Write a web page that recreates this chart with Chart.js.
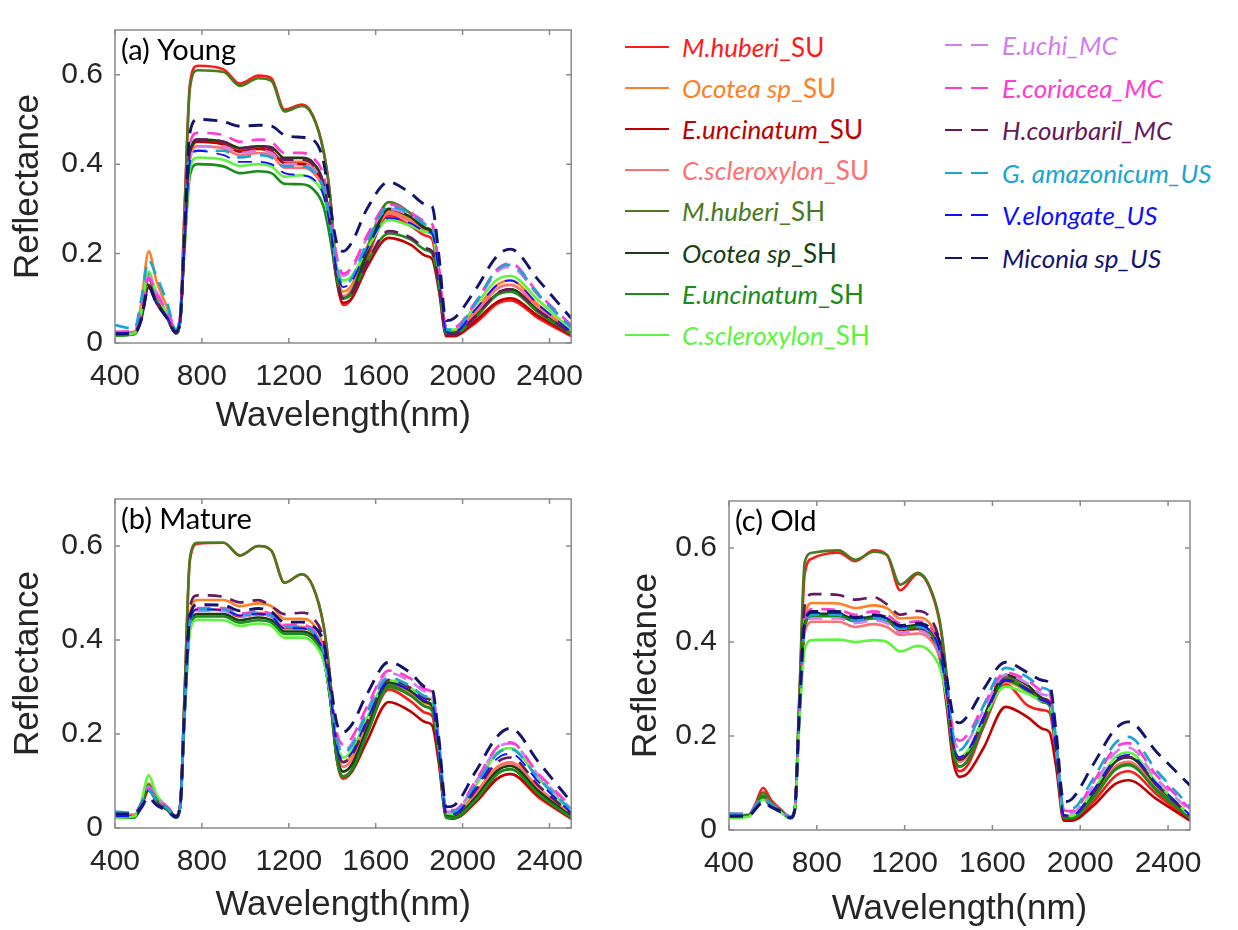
<!DOCTYPE html>
<html>
<head>
<meta charset="utf-8">
<script src="https://cdn.jsdelivr.net/npm/chart.js@4.4.1/dist/chart.umd.min.js"></script>
<style>
  body { margin: 0; background: #fff; width: 1238px; height: 930px; overflow: hidden; position: relative; }
  canvas { position: absolute; }
  .item { position: absolute; display: flex; align-items: center; height: 34px; font-family: Lato, "Open Sans", sans-serif; font-size: 26px; white-space: nowrap; }
  .item svg { margin-right: 13px; }
</style>
</head>
<body>
<canvas id="young" width="600" height="455" style="left:0;top:0"></canvas>
<canvas id="mature" width="600" height="470" style="left:0;top:460px"></canvas>
<canvas id="old" width="628" height="470" style="left:610px;top:460px"></canvas>
<div id="legend"></div>
<script>
// sample wavelengths (nm) shared by every curve
const wavelengths = [400, 490, 520, 555, 590, 640, 680, 700, 720, 745,
  780, 900, 975, 1060, 1120, 1180, 1260, 1310, 1360, 1390,
  1420, 1450, 1490, 1560, 1660, 1760, 1830, 1860, 1890, 1925,
  1960, 2060, 2160, 2220, 2350, 2500];

const speciesNames = ['M.huberi', 'Ocotea sp', 'E.uncinatum', 'C.scleroxylon', 'M.huberi', 'Ocotea sp', 'E.uncinatum', 'C.scleroxylon',
  'E.uchi', 'E.coriacea', 'H.courbaril', 'G. amazonicum', 'V.elongate', 'Miconia sp'];
const groupTags = ['_SU', '_SU', '_SU', '_SU', '_SH', '_SH', '_SH', '_SH', '_MC', '_MC', '_MC', '_US', '_US', '_US'];
const seriesColors = ['#ff1a1a', '#ff7f27', '#c00000', '#ff6f6f', '#4a7a1e', '#16400f', '#1a8c1a', '#5cf53c',
  '#d27cf2', '#ff3ccf', '#661a5e', '#1aa5d2', '#1010ff', '#14146e'];
const seriesDashed = [false, false, false, false, false, false, false, false, true, true, true, true, true, true];
const lineWidths = [2.6, 2.6, 2.6, 2.6, 2.6, 2.6, 2.6, 2.6, 2.7, 2.7, 2.7, 2.7, 1.8, 2.9];

// (a) Young
const aMhuberiSU = [0.020,0.022,0.060,0.150,0.105,0.060,0.025,0.055,0.300,0.580, 0.620,0.612,0.580,0.598,0.592,0.522,0.533,0.510,0.430,0.330, 0.150,0.085,0.100,0.190,0.285,0.262,0.240,0.232,0.140,0.020, 0.018,0.045,0.088,0.095,0.055,0.015];
const aOcoteaSU = [0.020,0.025,0.085,0.205,0.140,0.080,0.030,0.060,0.230,0.420, 0.450,0.445,0.430,0.436,0.430,0.405,0.405,0.395,0.350,0.265, 0.160,0.115,0.130,0.215,0.295,0.278,0.255,0.248,0.160,0.025, 0.025,0.075,0.130,0.140,0.085,0.025];
const aEuncinatumSU = [0.018,0.020,0.050,0.125,0.090,0.055,0.022,0.050,0.230,0.420, 0.450,0.444,0.428,0.434,0.428,0.402,0.400,0.390,0.345,0.255, 0.140,0.090,0.100,0.170,0.235,0.220,0.195,0.188,0.120,0.015, 0.015,0.050,0.092,0.100,0.060,0.018];
const aCscleroxylonSU = [0.022,0.025,0.065,0.150,0.110,0.065,0.025,0.055,0.225,0.410, 0.440,0.435,0.420,0.425,0.420,0.392,0.392,0.382,0.340,0.260, 0.155,0.105,0.120,0.205,0.290,0.272,0.250,0.243,0.155,0.025, 0.025,0.068,0.122,0.130,0.080,0.025];
const aMhuberiSH = [0.018,0.020,0.060,0.155,0.105,0.058,0.022,0.050,0.290,0.570, 0.610,0.606,0.575,0.592,0.586,0.518,0.530,0.508,0.428,0.330, 0.160,0.100,0.115,0.210,0.315,0.290,0.258,0.250,0.160,0.025, 0.022,0.060,0.110,0.120,0.070,0.020];
const aOcoteaSH = [0.018,0.022,0.060,0.145,0.100,0.058,0.022,0.050,0.230,0.425, 0.455,0.450,0.436,0.440,0.438,0.414,0.414,0.404,0.355,0.265, 0.150,0.100,0.112,0.200,0.300,0.282,0.256,0.248,0.158,0.022, 0.022,0.060,0.110,0.120,0.072,0.020];
const aEuncinatumSH = [0.016,0.020,0.060,0.150,0.100,0.058,0.022,0.050,0.210,0.375, 0.400,0.395,0.380,0.384,0.380,0.356,0.355,0.345,0.305,0.235, 0.145,0.100,0.110,0.180,0.245,0.232,0.208,0.200,0.130,0.020, 0.020,0.058,0.108,0.115,0.068,0.020];
const aCscleroxylonSH = [0.018,0.022,0.068,0.160,0.110,0.065,0.025,0.055,0.215,0.390, 0.415,0.410,0.396,0.400,0.395,0.372,0.375,0.365,0.330,0.260, 0.175,0.140,0.150,0.210,0.275,0.262,0.248,0.242,0.160,0.030, 0.030,0.085,0.142,0.150,0.095,0.030];
const aEuchiMC = [0.025,0.028,0.065,0.150,0.115,0.075,0.035,0.060,0.230,0.415, 0.440,0.440,0.425,0.430,0.425,0.400,0.400,0.390,0.355,0.285, 0.190,0.150,0.165,0.235,0.300,0.286,0.268,0.262,0.170,0.030, 0.030,0.088,0.160,0.170,0.105,0.035];
const aEcoriaceaMC = [0.025,0.028,0.065,0.145,0.110,0.070,0.030,0.060,0.240,0.445, 0.470,0.465,0.450,0.455,0.450,0.425,0.425,0.415,0.375,0.295, 0.195,0.155,0.170,0.240,0.310,0.292,0.272,0.266,0.175,0.035, 0.035,0.092,0.165,0.178,0.110,0.040];
const aHcourbarilMC = [0.020,0.022,0.055,0.130,0.095,0.055,0.022,0.050,0.230,0.430, 0.455,0.450,0.435,0.440,0.435,0.410,0.410,0.400,0.355,0.265, 0.150,0.100,0.112,0.180,0.250,0.236,0.212,0.205,0.135,0.020, 0.020,0.060,0.112,0.120,0.072,0.022];
const aGamazonicumUS = [0.040,0.032,0.095,0.185,0.150,0.090,0.030,0.060,0.230,0.410, 0.430,0.430,0.415,0.420,0.415,0.395,0.395,0.385,0.345,0.270, 0.170,0.130,0.145,0.225,0.305,0.290,0.265,0.258,0.168,0.030, 0.030,0.090,0.165,0.175,0.108,0.035];
const aVelongateUS = [0.022,0.025,0.050,0.120,0.090,0.058,0.025,0.055,0.225,0.405, 0.430,0.420,0.405,0.405,0.400,0.380,0.375,0.368,0.330,0.260, 0.165,0.125,0.138,0.210,0.280,0.268,0.250,0.244,0.160,0.025, 0.025,0.075,0.130,0.140,0.085,0.025];
const aMiconiaUS = [0.020,0.022,0.050,0.125,0.090,0.055,0.025,0.050,0.240,0.470, 0.500,0.495,0.485,0.487,0.485,0.465,0.460,0.455,0.405,0.310, 0.225,0.205,0.225,0.300,0.360,0.335,0.310,0.305,0.200,0.050, 0.055,0.120,0.195,0.210,0.140,0.055];

// (b) Mature
const bMhuberiSU = [0.025,0.025,0.045,0.085,0.060,0.040,0.025,0.045,0.280,0.570, 0.605,0.607,0.580,0.600,0.590,0.522,0.540,0.515,0.430,0.320, 0.150,0.105,0.120,0.200,0.295,0.270,0.245,0.238,0.150,0.025, 0.022,0.055,0.105,0.115,0.065,0.020];
const bOcoteaSU = [0.028,0.028,0.050,0.095,0.065,0.042,0.025,0.050,0.250,0.455, 0.485,0.485,0.472,0.478,0.472,0.445,0.445,0.435,0.380,0.290, 0.175,0.140,0.155,0.220,0.300,0.285,0.265,0.258,0.165,0.030, 0.028,0.075,0.130,0.140,0.085,0.028];
const bEuncinatumSU = [0.025,0.025,0.045,0.080,0.058,0.038,0.022,0.045,0.240,0.440, 0.465,0.463,0.450,0.455,0.450,0.425,0.425,0.415,0.365,0.275, 0.150,0.110,0.120,0.185,0.268,0.248,0.225,0.218,0.140,0.022, 0.020,0.055,0.105,0.115,0.068,0.020];
const bCscleroxylonSU = [0.028,0.028,0.050,0.090,0.063,0.042,0.025,0.048,0.245,0.440, 0.465,0.465,0.452,0.458,0.452,0.428,0.428,0.418,0.370,0.285, 0.170,0.130,0.145,0.215,0.305,0.288,0.268,0.262,0.168,0.030, 0.028,0.072,0.128,0.138,0.082,0.028];
const bMhuberiSH = [0.025,0.025,0.045,0.090,0.062,0.040,0.025,0.045,0.285,0.575, 0.607,0.607,0.580,0.600,0.590,0.522,0.540,0.515,0.432,0.320, 0.155,0.110,0.125,0.210,0.305,0.282,0.258,0.250,0.160,0.025, 0.022,0.060,0.115,0.125,0.072,0.022];
const bOcoteaSH = [0.025,0.025,0.048,0.088,0.062,0.040,0.024,0.046,0.240,0.430, 0.455,0.455,0.442,0.448,0.442,0.418,0.418,0.408,0.362,0.280, 0.160,0.120,0.135,0.210,0.310,0.292,0.268,0.260,0.165,0.025, 0.024,0.065,0.122,0.132,0.078,0.024];
const bEuncinatumSH = [0.022,0.022,0.045,0.092,0.062,0.040,0.022,0.045,0.238,0.425, 0.450,0.450,0.437,0.442,0.437,0.413,0.413,0.403,0.358,0.278, 0.150,0.108,0.122,0.200,0.300,0.282,0.258,0.250,0.160,0.022, 0.022,0.060,0.115,0.125,0.072,0.022];
const bCscleroxylonSH = [0.022,0.025,0.055,0.112,0.072,0.045,0.025,0.045,0.232,0.418, 0.443,0.442,0.430,0.435,0.430,0.405,0.405,0.395,0.355,0.285, 0.185,0.150,0.165,0.235,0.315,0.298,0.278,0.272,0.178,0.032, 0.030,0.090,0.160,0.170,0.105,0.035];
const bEuchiMC = [0.030,0.030,0.050,0.088,0.065,0.045,0.028,0.048,0.245,0.440, 0.462,0.462,0.450,0.455,0.450,0.428,0.428,0.418,0.375,0.295, 0.195,0.165,0.180,0.250,0.330,0.312,0.290,0.284,0.185,0.035, 0.035,0.098,0.170,0.180,0.112,0.040];
const bEcoriaceaMC = [0.032,0.032,0.052,0.085,0.065,0.045,0.028,0.048,0.248,0.445, 0.468,0.468,0.456,0.461,0.455,0.432,0.432,0.422,0.380,0.300, 0.205,0.178,0.192,0.258,0.335,0.318,0.295,0.288,0.188,0.038, 0.038,0.100,0.172,0.182,0.115,0.045];
const bHcourbarilMC = [0.030,0.030,0.050,0.080,0.060,0.042,0.025,0.048,0.260,0.470, 0.495,0.492,0.480,0.485,0.472,0.455,0.458,0.448,0.400,0.305, 0.180,0.140,0.155,0.225,0.315,0.298,0.275,0.268,0.172,0.030, 0.030,0.080,0.140,0.150,0.090,0.030];
const bGamazonicumUS = [0.035,0.032,0.050,0.080,0.060,0.042,0.025,0.046,0.245,0.440, 0.465,0.465,0.452,0.457,0.452,0.428,0.428,0.418,0.375,0.295, 0.190,0.160,0.175,0.245,0.320,0.302,0.280,0.274,0.178,0.035, 0.035,0.092,0.158,0.168,0.105,0.038];
const bVelongateUS = [0.025,0.025,0.040,0.062,0.048,0.035,0.022,0.042,0.240,0.440, 0.465,0.464,0.452,0.456,0.450,0.425,0.425,0.415,0.372,0.290, 0.175,0.145,0.160,0.230,0.310,0.292,0.270,0.264,0.170,0.030, 0.030,0.085,0.148,0.158,0.098,0.032];
const bMiconiaUS = [0.030,0.030,0.045,0.065,0.050,0.038,0.025,0.045,0.250,0.450, 0.475,0.474,0.462,0.467,0.460,0.438,0.438,0.430,0.395,0.315, 0.225,0.204,0.220,0.285,0.353,0.330,0.300,0.295,0.195,0.045, 0.048,0.120,0.195,0.212,0.140,0.055];

// (c) Old
const cMhuberiSU = [0.030,0.032,0.055,0.090,0.065,0.042,0.028,0.045,0.270,0.545, 0.578,0.590,0.572,0.595,0.585,0.510,0.545,0.520,0.440,0.330, 0.170,0.125,0.140,0.220,0.310,0.265,0.255,0.250,0.160,0.025, 0.022,0.060,0.115,0.125,0.075,0.022];
const cOcoteaSU = [0.032,0.032,0.050,0.072,0.055,0.040,0.028,0.045,0.250,0.455, 0.483,0.482,0.472,0.478,0.472,0.450,0.452,0.442,0.390,0.300, 0.185,0.150,0.165,0.235,0.315,0.295,0.275,0.268,0.170,0.030, 0.028,0.078,0.132,0.142,0.085,0.028];
const cEuncinatumSU = [0.030,0.030,0.048,0.070,0.055,0.038,0.026,0.044,0.245,0.435, 0.458,0.458,0.446,0.452,0.446,0.425,0.428,0.418,0.365,0.270, 0.150,0.113,0.122,0.175,0.262,0.240,0.215,0.208,0.135,0.020, 0.020,0.052,0.098,0.106,0.065,0.020];
const cCscleroxylonSU = [0.032,0.032,0.050,0.075,0.058,0.040,0.028,0.045,0.240,0.420, 0.443,0.443,0.432,0.438,0.432,0.415,0.418,0.408,0.365,0.285, 0.175,0.145,0.160,0.230,0.318,0.298,0.272,0.265,0.168,0.030, 0.028,0.075,0.135,0.145,0.088,0.028];
const cMhuberiSH = [0.030,0.032,0.052,0.080,0.060,0.040,0.028,0.045,0.280,0.570, 0.590,0.595,0.575,0.592,0.585,0.522,0.547,0.522,0.445,0.335, 0.175,0.135,0.150,0.230,0.325,0.300,0.275,0.268,0.170,0.028, 0.025,0.068,0.130,0.140,0.082,0.025];
const cOcoteaSH = [0.028,0.030,0.048,0.070,0.055,0.038,0.026,0.044,0.245,0.438, 0.460,0.460,0.448,0.454,0.450,0.432,0.436,0.426,0.378,0.292, 0.180,0.150,0.165,0.240,0.330,0.308,0.280,0.272,0.175,0.030, 0.028,0.078,0.145,0.155,0.095,0.030];
const cEuncinatumSH = [0.028,0.030,0.048,0.072,0.056,0.038,0.026,0.044,0.243,0.433, 0.455,0.455,0.444,0.450,0.445,0.428,0.432,0.422,0.372,0.285, 0.165,0.135,0.150,0.225,0.318,0.296,0.272,0.265,0.168,0.026, 0.025,0.070,0.128,0.138,0.085,0.026];
const cCscleroxylonSH = [0.025,0.028,0.045,0.065,0.052,0.036,0.024,0.042,0.220,0.385, 0.404,0.405,0.400,0.404,0.400,0.380,0.392,0.382,0.345,0.285, 0.190,0.155,0.170,0.235,0.305,0.290,0.275,0.270,0.175,0.032, 0.030,0.085,0.155,0.165,0.100,0.030];
const cEuchiMC = [0.032,0.032,0.050,0.068,0.055,0.040,0.028,0.045,0.240,0.428, 0.450,0.450,0.440,0.446,0.440,0.420,0.424,0.414,0.375,0.300, 0.200,0.175,0.190,0.255,0.330,0.312,0.288,0.282,0.182,0.038, 0.036,0.095,0.165,0.175,0.108,0.040];
const cEcoriaceaMC = [0.035,0.034,0.052,0.070,0.056,0.040,0.028,0.046,0.250,0.448, 0.470,0.468,0.458,0.465,0.458,0.440,0.444,0.434,0.390,0.310, 0.215,0.190,0.205,0.265,0.335,0.318,0.296,0.290,0.188,0.042, 0.040,0.102,0.175,0.185,0.115,0.045];
const cHcourbarilMC = [0.032,0.032,0.048,0.065,0.052,0.038,0.026,0.045,0.265,0.478, 0.502,0.500,0.490,0.495,0.480,0.458,0.466,0.455,0.400,0.305, 0.185,0.150,0.165,0.235,0.320,0.300,0.278,0.272,0.172,0.030, 0.030,0.080,0.145,0.155,0.095,0.030];
const cGamazonicumUS = [0.035,0.034,0.050,0.068,0.055,0.040,0.028,0.045,0.245,0.435, 0.458,0.458,0.446,0.452,0.446,0.428,0.432,0.422,0.380,0.305, 0.205,0.170,0.190,0.265,0.345,0.325,0.302,0.296,0.192,0.045, 0.045,0.110,0.185,0.198,0.125,0.050];
const cVelongateUS = [0.028,0.030,0.042,0.058,0.048,0.036,0.025,0.043,0.245,0.438, 0.462,0.462,0.450,0.456,0.450,0.432,0.436,0.426,0.380,0.295, 0.185,0.155,0.170,0.240,0.318,0.298,0.275,0.268,0.172,0.032, 0.030,0.085,0.150,0.160,0.098,0.032];
const cMiconiaUS = [0.030,0.030,0.045,0.060,0.050,0.038,0.026,0.044,0.245,0.440, 0.465,0.465,0.452,0.458,0.452,0.435,0.440,0.432,0.400,0.330, 0.245,0.228,0.245,0.300,0.357,0.335,0.318,0.312,0.210,0.060, 0.065,0.140,0.215,0.230,0.165,0.095];

const youngSeries = [aMhuberiSU, aOcoteaSU, aEuncinatumSU, aCscleroxylonSU, aMhuberiSH, aOcoteaSH, aEuncinatumSH, aCscleroxylonSH,
  aEuchiMC, aEcoriaceaMC, aHcourbarilMC, aGamazonicumUS, aVelongateUS, aMiconiaUS];
const matureSeries = [bMhuberiSU, bOcoteaSU, bEuncinatumSU, bCscleroxylonSU, bMhuberiSH, bOcoteaSH, bEuncinatumSH, bCscleroxylonSH,
  bEuchiMC, bEcoriaceaMC, bHcourbarilMC, bGamazonicumUS, bVelongateUS, bMiconiaUS];
const oldSeries = [cMhuberiSU, cOcoteaSU, cEuncinatumSU, cCscleroxylonSU, cMhuberiSH, cOcoteaSH, cEuncinatumSH, cCscleroxylonSH,
  cEuchiMC, cEcoriaceaMC, cHcourbarilMC, cGamazonicumUS, cVelongateUS, cMiconiaUS];

const xTickValues = [400, 800, 1200, 1600, 2000, 2400];
const yTickValues = [0, 0.2, 0.4, 0.6];

const AXIS_FONT = 'Liberation Sans';
const TEXT_COLOR = '#262626';

// MATLAB-like box: frame, inward ticks on all four sides, panel label
const matlabFrame = {
  id: 'matlabFrame',
  afterDraw(chart, args, opts) {
    const { ctx, chartArea: area, scales: { x, y } } = chart;
    ctx.save();
    ctx.strokeStyle = '#8a8a8a';
    ctx.lineWidth = 1.5;
    ctx.strokeRect(area.left, area.top, area.width, area.height);
    ctx.beginPath();
    x.ticks.forEach(t => {
      const px = x.getPixelForValue(t.value);
      ctx.moveTo(px, area.bottom); ctx.lineTo(px, area.bottom - 5);
      ctx.moveTo(px, area.top); ctx.lineTo(px, area.top + 5);
    });
    y.ticks.forEach(t => {
      const py = y.getPixelForValue(t.value);
      ctx.moveTo(area.left, py); ctx.lineTo(area.left + 5, py);
      ctx.moveTo(area.right, py); ctx.lineTo(area.right - 5, py);
    });
    ctx.stroke();
    ctx.fillStyle = '#000';
    ctx.font = '29px Lato';
    ctx.textBaseline = 'middle';
    ctx.fillText(opts.label, area.left + 6, area.top + 21);
    ctx.restore();
  }
};

function buildPanel(canvasId, seriesValues, cfg) {
  const datasets = seriesValues.map((vals, i) => ({
    label: speciesNames[i] + groupTags[i],
    data: wavelengths.map((w, j) => ({ x: w, y: vals[j] })),
    borderColor: seriesColors[i],
    borderWidth: lineWidths[i],
    borderDash: seriesDashed[i] ? [14, 9] : [],
    pointRadius: 0,
    tension: 0.3,
    cubicInterpolationMode: 'monotone',
    order: seriesValues.length - i   // later series drawn on top, like MATLAB
  }));

  return new Chart(document.getElementById(canvasId), {
    type: 'line',
    data: { datasets },
    plugins: [matlabFrame],
    options: {
      responsive: false,
      animation: false,
      events: [],
      layout: { padding: { top: cfg.top, right: cfg.right, left: 0, bottom: 0 } },
      plugins: {
        legend: { display: false },
        tooltip: { enabled: false },
        matlabFrame: { label: cfg.label }
      },
      scales: {
        x: {
          type: 'linear', min: 400, max: 2500,
          afterBuildTicks: s => { s.ticks = xTickValues.map(v => ({ value: v })); },
          afterFit: s => { s.height = cfg.xHeight; },
          ticks: { padding: 16, color: TEXT_COLOR, font: { family: AXIS_FONT, size: 30 }, maxRotation: 0, autoSkip: false, callback: v => String(v) },
          grid: { display: false, drawTicks: false },
          border: { display: false },
          title: { display: true, text: 'Wavelength(nm)', color: TEXT_COLOR, font: { family: AXIS_FONT, size: 35 }, padding: { top: 0, bottom: cfg.xTitlePad } }
        },
        y: {
          type: 'linear', min: 0, max: 0.7,
          afterBuildTicks: s => { s.ticks = yTickValues.map(v => ({ value: v })); },
          afterFit: s => { s.width = cfg.yWidth; },
          ticks: { padding: 12, color: TEXT_COLOR, font: { family: AXIS_FONT, size: 30 }, callback: v => v === 0 ? '0' : v.toFixed(1) },
          grid: { display: false, drawTicks: false },
          border: { display: false },
          title: { display: true, text: 'Reflectance', color: TEXT_COLOR, font: { family: AXIS_FONT, size: 35 }, padding: { top: cfg.yTitlePad, bottom: 0 } }
        }
      }
    }
  });
}

buildPanel('young', youngSeries, { label: '(a) Young', top: 14, right: 24, xHeight: 112, yWidth: 115, xTitlePad: 18, yTitlePad: 7 });
buildPanel('mature', matureSeries, { label: '(b) Mature', top: 39, right: 24, xHeight: 102, yWidth: 115, xTitlePad: 4, yTitlePad: 7 });
buildPanel('old', oldSeries, { label: '(c) Old', top: 41, right: 48, xHeight: 100, yWidth: 119, xTitlePad: 0, yTitlePad: 15 });

// legend, two columns: solid groups on the left, dashed groups on the right
const legend = document.getElementById('legend');
speciesNames.forEach((name, i) => {
  const col = i < 8 ? 0 : 1;
  const row = col ? i - 8 : i;
  const cy = col ? 45 + row * 42.6 : 47 + row * 41.1;
  const item = document.createElement('div');
  item.className = 'item';
  item.style.left = (col ? 945 : 625) + 'px';
  item.style.top = (cy - 17) + 'px';
  const dash = seriesDashed[i] ? 'stroke-dasharray="17 9"' : '';
  const tag = seriesDashed[i] ? '<i>' + groupTags[i] + '</i>' : groupTags[i];
  item.innerHTML = '<svg width="44" height="6"><line x1="0" y1="3" x2="44" y2="3" stroke="' + seriesColors[i] +
    '" stroke-width="2.2" ' + dash + '/></svg><span style="color:' + seriesColors[i] + '"><i>' + name + '</i>' + tag + '</span>';
  legend.appendChild(item);
});
</script>
</body>
</html>
